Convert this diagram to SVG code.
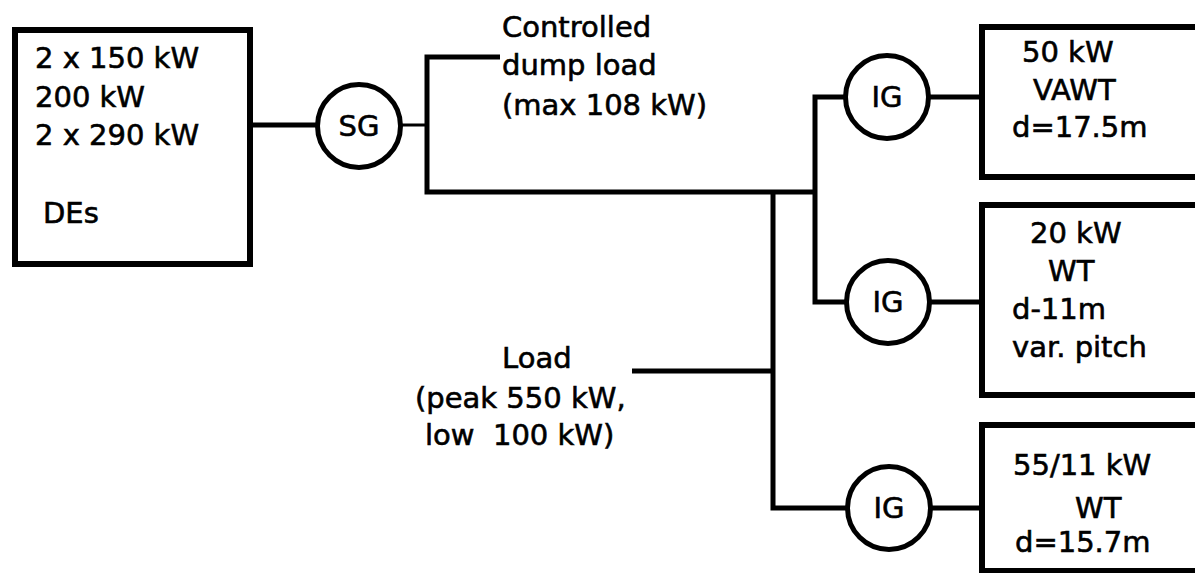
<svg xmlns="http://www.w3.org/2000/svg" width="1195" height="573" viewBox="0 0 1195 573">
<style>
.t{font-family:"DejaVu Sans","Liberation Sans",sans-serif;font-size:29px;fill:#000;stroke:#000;stroke-width:0.6}
.c{text-anchor:middle}
.box{fill:none;stroke:#000;stroke-width:6}
.gen{fill:#fff;stroke:#000;stroke-width:5}
.w{fill:none;stroke:#000;stroke-width:5}
.thin{fill:none;stroke:#000;stroke-width:3}
</style>
<rect width="1195" height="573" fill="#fff"/>
<g id="connectors">
<path class="w" d="M252,125 H318"/>
<path class="thin" d="M402,125 H427"/>
<path class="w" d="M500,57 H427 V192 H815"/>
<path class="w" d="M845,97 H815 V302 H847"/>
<path class="w" d="M773,192 V508 H847"/>
<path class="w" d="M632,371 H773"/>
<path class="w" d="M930,97 H982"/>
<path class="w" d="M930,302 H982"/>
<path class="w" d="M930,508 H982"/>
</g>
<g id="des">
<rect class="box" x="15" y="30" width="235" height="234"/>
<text class="t" x="35" y="68">2 x 150 kW</text>
<text class="t" x="35" y="107">200 kW</text>
<text class="t" x="35" y="145">2 x 290 kW</text>
<text class="t" x="43" y="223">DEs</text>
</g>
<g id="sg">
<circle class="gen" cx="359" cy="126" r="41.5"/>
<text class="t c" x="359" y="136">SG</text>
</g>
<g id="dumpload">
<text class="t" x="502" y="37">Controlled</text>
<text class="t" x="502" y="75">dump load</text>
<text class="t" x="502" y="115">(max 108 kW)</text>
</g>
<g id="load">
<text class="t" x="502" y="368">Load</text>
<text class="t" x="415" y="408">(peak 550 kW,</text>
<text class="t" x="425" y="445" xml:space="preserve">low  100 kW)</text>
</g>
<g id="ig1">
<circle class="gen" cx="887" cy="97" r="41.5"/>
<text class="t c" x="887" y="107">IG</text>
</g>
<g id="ig2">
<circle class="gen" cx="888" cy="302" r="41.5"/>
<text class="t c" x="888" y="312">IG</text>
</g>
<g id="ig3">
<circle class="gen" cx="889" cy="508" r="41.5"/>
<text class="t c" x="889" y="518">IG</text>
</g>
<g id="vawt">
<path class="box" d="M1200,27 H982 V177 H1200"/>
<text class="t" x="1022" y="62">50 kW</text>
<text class="t" x="1033" y="100">VAWT</text>
<text class="t" x="1012" y="137">d=17.5m</text>
</g>
<g id="wt20">
<path class="box" d="M1200,205 H982 V395 H1200"/>
<text class="t" x="1030" y="243">20 kW</text>
<text class="t" x="1048" y="281">WT</text>
<text class="t" x="1012" y="319">d-11m</text>
<text class="t" x="1012" y="357">var. pitch</text>
</g>
<g id="wt55">
<path class="box" d="M1200,425 H982 V571 H1200"/>
<text class="t" x="1013" y="475">55/11 kW</text>
<text class="t" x="1075" y="518">WT</text>
<text class="t" x="1015" y="552">d=15.7m</text>
</g>
</svg>
